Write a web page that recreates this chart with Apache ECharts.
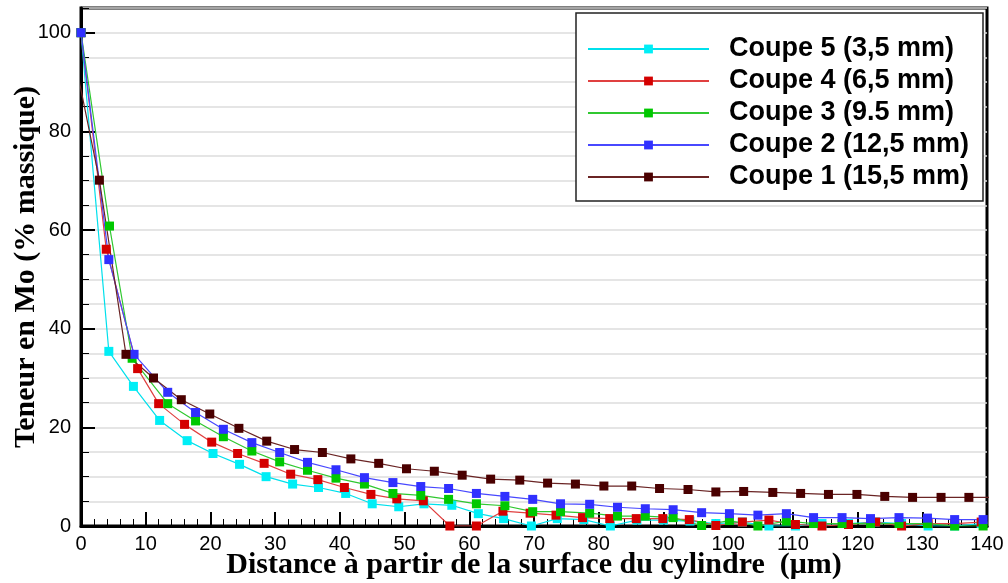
<!DOCTYPE html>
<html>
<head>
<meta charset="utf-8">
<script src="https://cdn.jsdelivr.net/npm/echarts@6/dist/echarts.min.js"></script>
<style>
  html, body { margin: 0; padding: 0; background: #ffffff; }
  #chart { width: 1008px; height: 583px; }
</style>
</head>
<body>
<div id="chart"></div>
<script>
// Mo content profiles (% mass) versus depth below the cylinder surface (µm)
const seriesNames = ['Coupe 5 (3,5 mm)', 'Coupe 4 (6,5 mm)', 'Coupe 3 (9.5 mm)', 'Coupe 2 (12,5 mm)', 'Coupe 1 (15,5 mm)'];

const coupe5X = [0, 4.3, 8.1, 12.15, 16.4, 20.4, 24.5, 28.6, 32.7, 36.7, 40.9, 45.0, 49.1, 53.0, 57.3, 61.4, 65.3, 69.6, 73.6, 77.7, 81.8, 85.9, 90.0, 94.1, 98.1, 102.2, 106.3, 110.4, 114.5, 118.6, 122.7, 126.8, 130.9, 135.0, 139.1];
const coupe5Y = [100, 35.4, 28.3, 21.4, 17.3, 14.7, 12.5, 10.0, 8.5, 7.8, 6.6, 4.5, 3.9, 4.5, 4.2, 2.5, 1.5, 0, 1.5, 1.3, 0, 1.2, 1.2, 1.0, 0.5, 0.8, 0, 0, 0.5, 0.5, 0.8, 0.5, 0, 0, 0.5];

const coupe4X = [0, 3.9, 8.75, 12.0, 16.0, 20.2, 24.2, 28.3, 32.4, 36.6, 40.7, 44.8, 48.8, 52.9, 57.0, 61.1, 65.2, 69.4, 73.4, 77.5, 81.7, 85.8, 89.9, 94.0, 98.1, 102.2, 106.3, 110.4, 114.5, 118.6, 122.8, 126.8, 130.9, 135.0, 139.1];
const coupe4Y = [100, 56.1, 31.9, 24.8, 20.6, 17.0, 14.7, 12.7, 10.5, 9.4, 7.8, 6.4, 5.5, 5.1, 0, 0, 3.0, 2.6, 2.2, 1.7, 1.5, 1.5, 1.5, 1.3, 0.1, 0.8, 1.2, 0.3, 0, 0.3, 0.8, 0, 0.5, 0.5, 0.8];

const coupe3X = [0, 4.4, 7.9, 13.4, 17.7, 22.0, 26.4, 30.7, 35.0, 39.4, 43.8, 48.2, 52.5, 56.8, 61.1, 65.5, 69.8, 74.1, 78.6, 82.9, 87.2, 91.5, 95.9, 100.2, 104.6, 109.0, 113.2, 117.6, 122.0, 126.4, 130.8, 135.0, 139.4];
const coupe3Y = [100, 60.8, 34.0, 24.8, 21.3, 18.1, 15.2, 13.0, 11.3, 9.7, 8.5, 6.6, 6.2, 5.4, 4.5, 4.1, 2.9, 2.9, 2.6, 2.0, 2.0, 1.7, 0.1, 1.1, 0, 1.0, 0.5, 0.5, 0.5, 0.5, 0.5, 0, 0];

const coupe2X = [0, 4.3, 8.2, 13.4, 17.7, 22.0, 26.4, 30.7, 35.0, 39.4, 43.8, 48.2, 52.5, 56.8, 61.1, 65.5, 69.8, 74.1, 78.6, 82.9, 87.2, 91.5, 95.9, 100.2, 104.6, 109.0, 113.2, 117.6, 122.0, 126.4, 130.8, 135.0, 139.4];
const coupe2Y = [100, 54.0, 34.8, 27.1, 23.0, 19.6, 16.9, 14.9, 12.9, 11.4, 9.8, 8.8, 8.0, 7.6, 6.6, 6.0, 5.4, 4.5, 4.4, 3.8, 3.5, 3.3, 2.7, 2.5, 2.2, 2.5, 1.7, 1.7, 1.5, 1.7, 1.6, 1.3, 1.3];

const coupe1X = [-1.8, 2.84, 6.95, 11.2, 15.5, 19.9, 24.4, 28.7, 33.0, 37.3, 41.7, 46.0, 50.3, 54.6, 58.9, 63.3, 67.8, 72.1, 76.4, 80.8, 85.1, 89.4, 93.8, 98.1, 102.4, 106.9, 111.2, 115.5, 119.9, 124.2, 128.5, 132.9, 137.2, 141.5];
const coupe1Y = [100, 70.1, 34.8, 30.0, 25.6, 22.7, 19.8, 17.2, 15.5, 14.9, 13.6, 12.7, 11.6, 11.1, 10.3, 9.5, 9.3, 8.7, 8.5, 8.1, 8.1, 7.6, 7.4, 6.9, 7.0, 6.8, 6.6, 6.4, 6.4, 6.0, 5.8, 5.8, 5.8, 5.8];

const xValues = [coupe5X, coupe4X, coupe3X, coupe2X, coupe1X];
const yValues = [coupe5Y, coupe4Y, coupe3Y, coupe2Y, coupe1Y];

const markerColors = ['#00eef6', '#d40000', '#00c800', '#3030ff', '#4a0000'];
const lineColors   = ['#00e0ec', '#e04040', '#30c830', '#4848ff', '#6a2424'];

const xAxisTitle = 'Distance à partir de la surface du cylindre  (μm)';
const yAxisTitle = 'Teneur en Mo (% massique)';

function pairs(xs, ys) {
  return xs.map((x, i) => [x, ys[i]]);
}

const series = seriesNames.map((name, k) => ({
  name: name,
  type: 'line',
  xAxisIndex: 0,
  yAxisIndex: 1,
  data: pairs(xValues[k], yValues[k]),
  symbol: 'rect',
  symbolSize: 9,
  showAllSymbol: true,
  clip: true,
  animation: false,
  itemStyle: { color: markerColors[k] },
  lineStyle: { color: lineColors[k], width: 1.2 },
  emphasis: { disabled: true }
}));

const chart = echarts.init(document.getElementById('chart'), null, { renderer: 'canvas' });

chart.setOption({
  animation: false,
  backgroundColor: '#ffffff',
  grid: {
    left: 81, top: 8, width: 906, height: 518,
    outerBoundsMode: 'none',
    containLabel: false,
    show: true, borderColor: '#000', borderWidth: 3, backgroundColor: 'transparent'
  },
  xAxis: {
    type: 'value',
    min: 0, max: 140, interval: 10,
    z: 3,
    axisLine: { show: true, lineStyle: { color: '#000', width: 3 } },
    axisTick: { show: true, inside: true, length: 14, lineStyle: { color: '#000', width: 2 } },
    minorTick: { show: true, splitNumber: 5, length: 7, lineStyle: { color: '#000', width: 1 } },
    axisLabel: { color: '#000', fontSize: 20, fontFamily: 'Liberation Sans', margin: 8 },
    splitLine: { show: false },
    name: xAxisTitle,
    nameLocation: 'middle',
    nameGap: 24,
    nameMoveOverlap: false,
    nameTextStyle: { color: '#000', fontSize: 30, fontWeight: 'bold', fontFamily: 'Liberation Serif' }
  },
  yAxis: [
    {
      type: 'value',
      min: 0, max: 105, interval: 5,
      position: 'left',
      axisLine: { show: false },
      axisTick: { show: true, inside: true, length: 8, lineStyle: { color: '#000', width: 1 } },
      axisLabel: { show: false },
      splitLine: { show: true, lineStyle: { color: '#dcdcdc', width: 1.5 } }
    },
    {
      type: 'value',
      min: 0, max: 105, interval: 20,
      position: 'left',
      offset: 0,
      axisLine: { show: true, lineStyle: { color: '#000', width: 3 } },
      axisTick: { show: true, inside: true, length: 14, lineStyle: { color: '#000', width: 2 } },
      axisLabel: { color: '#000', fontSize: 20, fontFamily: 'Liberation Sans', margin: 10, showMaxLabel: false },
      splitLine: { show: false },
      name: yAxisTitle,
      nameLocation: 'middle',
      nameRotate: 90,
      nameGap: 40,
      nameMoveOverlap: false,
      nameTextStyle: { color: '#000', fontSize: 30, fontWeight: 'bold', fontFamily: 'Liberation Serif' }
    }
  ],
  graphic: [{
    type: 'rect',
    z: 10,
    shape: { x: 576, y: 13, width: 407, height: 188 },
    style: { fill: '#ffffff', stroke: '#222', lineWidth: 1.5 }
  }],
  legend: {
    orient: 'vertical',
    left: 587,
    top: 34,
    z: 11,
    padding: 0,
    itemGap: 2,
    itemWidth: 121,
    itemHeight: 11,
    selectedMode: false,
    data: seriesNames,
    textStyle: {
      color: '#000', fontSize: 27, fontWeight: 'bold', fontFamily: 'Liberation Sans',
      lineHeight: 30, padding: [0, 0, 0, 15]
    }
  },
  series: series
});
</script>
</body>
</html>
